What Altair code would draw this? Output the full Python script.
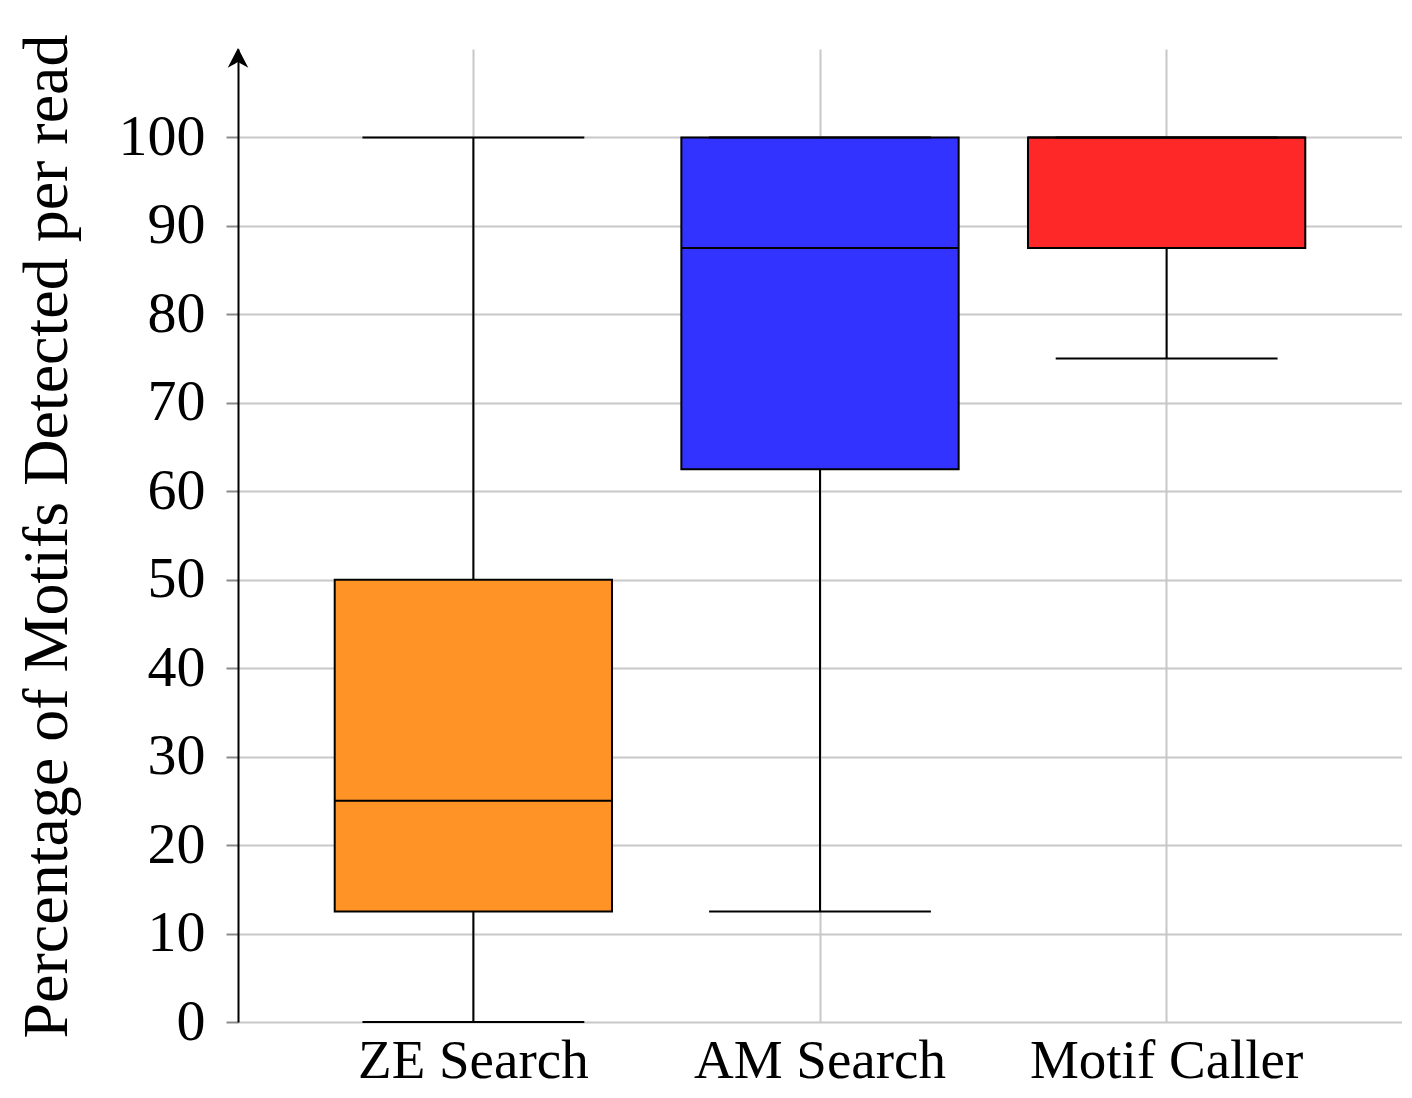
import altair as alt
import pandas as pd

categories = ["ZE Search", "AM Search", "Motif Caller"]
mins = [0, 12.5, 75]
q1s = [12.5, 62.5, 87.5]
medians = [25, 87.5, 100]
q3s = [50, 100, 100]
maxs = [100, 100, 100]
colors = ["#FF9326", "#3333FF", "#FF2828"]
y_ticks = list(range(0, 101, 10))
y_title = "Percentage of Motifs Detected per read"

df = pd.DataFrame({
    "cat": categories, "lo": mins, "q1": q1s, "med": medians,
    "q3": q3s, "hi": maxs, "col": colors,
})

FONT = "Liberation Serif"
PLOT_W = 1164
PLOT_H = 973

xscale = alt.Scale(domain=categories, paddingInner=0.2, paddingOuter=0.279)
yscale = alt.Scale(domain=[0, 110], nice=False, zero=False)

xenc = alt.X("cat:N", scale=xscale, sort=categories,
             axis=alt.Axis(title=None, grid=True, gridColor="#c8c8c8", gridWidth=2,
                           bandPosition=0.5, ticks=False, tickSize=0, domain=False,
                           labelAngle=0, labelFont=FONT, labelFontSize=55,
                           labelColor="black", labelBaseline="alphabetic",
                           labelPadding=55, labelLimit=0))

base = alt.Chart(df)

yaxis = alt.Axis(values=y_ticks, title=y_title, grid=True, gridColor="#c8c8c8",
                 gridWidth=2, domainColor="black", domainWidth=2,
                 tickColor="#8a8a8a", tickSize=12, tickWidth=2,
                 labelFont=FONT, labelFontSize=58, labelColor="black",
                 labelPadding=21, titleFont=FONT, titleFontSize=64,
                 titleFontWeight="normal", titleColor="black", titleAngle=270,
                 titleAlign="center", titleBaseline="alphabetic",
                 titleX=-172, titleY=487, titleLimit=0)

whisker = base.mark_rule(color="black", strokeWidth=2).encode(
    x=xenc,
    y=alt.Y("lo:Q", scale=yscale, axis=yaxis),
    y2="hi:Q",
)

box = base.mark_bar(stroke="black", strokeWidth=2, opacity=1).encode(
    x=xenc,
    y=alt.Y("q1:Q", scale=yscale),
    y2="q3:Q",
    fill=alt.Fill("col:N", scale=None),
)

median = base.mark_bar(stroke="black", strokeWidth=2, fill="black").encode(
    x=xenc,
    y=alt.Y("med:Q", scale=yscale),
    y2="med:Q",
)

cap_lo = base.mark_bar(stroke="black", strokeWidth=2, fill="black",
                       width=alt.RelativeBandSize(0.8)).encode(
    x=xenc, y=alt.Y("lo:Q", scale=yscale), y2="lo:Q")
cap_hi = base.mark_bar(stroke="black", strokeWidth=2, fill="black",
                       width=alt.RelativeBandSize(0.8)).encode(
    x=xenc, y=alt.Y("hi:Q", scale=yscale), y2="hi:Q")

arrow = alt.Chart(pd.DataFrame({"top": [110]})).mark_point(
    shape="M0,-0.05 L-0.55,1 Q0,0.7 0,0.7 Q0,0.7 0.55,1 Z",
    filled=True, color="black", opacity=1, size=1400,
).encode(x=alt.value(0), y=alt.Y("top:Q", scale=yscale))

chart = alt.layer(whisker, box, median, cap_lo, cap_hi, arrow).properties(
    width=PLOT_W, height=PLOT_H,
    autosize=alt.AutoSizeParams(type="none"),
    padding={"left": 230, "top": 41, "right": 0, "bottom": 68},
).configure(background="white").configure_view(stroke=None)

chart.save("out.html", embed_options={"renderer": "svg", "actions": False})
